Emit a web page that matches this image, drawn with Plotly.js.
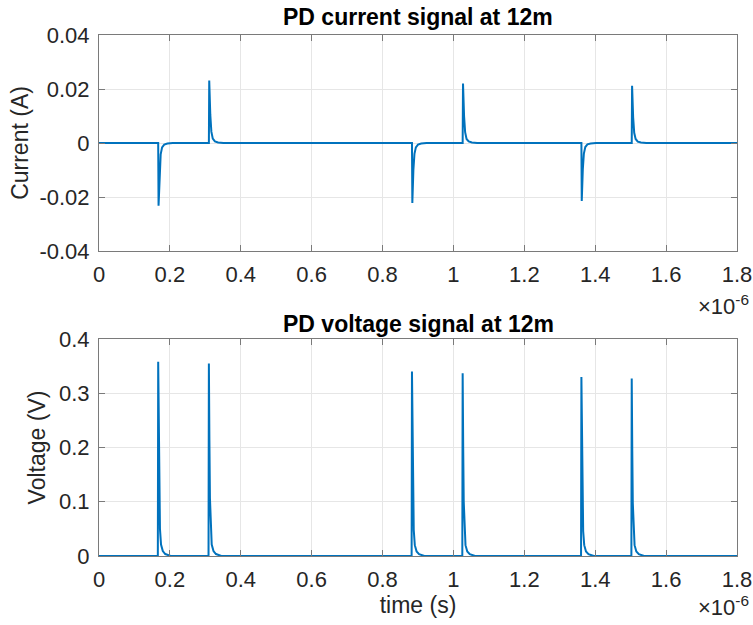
<!DOCTYPE html>
<html>
<head>
<meta charset="utf-8">
<script src="https://cdn.plot.ly/plotly-3.0.1.min.js"></script>
<style>html,body{margin:0;padding:0;background:#fff;}#chart{width:753px;height:625px;}</style>
</head>
<body>
<div id="chart"></div>
<script>
// time in microseconds (axis shows x10^-6 s)
const currentTime = [0,
  0.167, 0.168, 0.171, 0.174, 0.178, 0.184, 0.193, 0.208,
  0.310, 0.311, 0.314, 0.317, 0.321, 0.327, 0.336, 0.351,
  0.883, 0.884, 0.887, 0.890, 0.894, 0.900, 0.909, 0.924,
  1.026, 1.027, 1.030, 1.033, 1.037, 1.043, 1.052, 1.067,
  1.361, 1.362, 1.365, 1.368, 1.372, 1.378, 1.387, 1.402,
  1.503, 1.504, 1.507, 1.510, 1.514, 1.520, 1.529, 1.544,
  1.8];
const currentValues = [0,
  0, -0.0232, -0.0104, -0.0042, -0.0016, -0.0006, -0.0002, 0,
  0, 0.0231, 0.0104, 0.0042, 0.0016, 0.0006, 0.0002, 0,
  0, -0.0222, -0.0100, -0.0040, -0.0016, -0.0006, -0.0002, 0,
  0, 0.0220, 0.0099, 0.0040, 0.0015, 0.0006, 0.0002, 0,
  0, -0.0215, -0.0097, -0.0039, -0.0015, -0.0005, -0.0002, 0,
  0, 0.0212, 0.0095, 0.0038, 0.0015, 0.0005, 0.0002, 0,
  0];
const voltageTime = [0,
  0.166, 0.167, 0.1685, 0.170, 0.172, 0.175, 0.180, 0.187, 0.202,
  0.309, 0.310, 0.3115, 0.313, 0.315, 0.318, 0.323, 0.330, 0.345,
  0.882, 0.883, 0.8845, 0.886, 0.888, 0.891, 0.896, 0.903, 0.918,
  1.025, 1.026, 1.0275, 1.029, 1.031, 1.034, 1.039, 1.046, 1.061,
  1.360, 1.361, 1.3625, 1.364, 1.366, 1.369, 1.374, 1.381, 1.396,
  1.502, 1.503, 1.5045, 1.506, 1.508, 1.511, 1.516, 1.523, 1.538,
  1.8];
const voltageValues = [0,
  0, 0.358, 0.215, 0.107, 0.050, 0.021, 0.009, 0.0036, 0,
  0, 0.355, 0.213, 0.107, 0.050, 0.021, 0.009, 0.0036, 0,
  0, 0.340, 0.204, 0.102, 0.048, 0.020, 0.0085, 0.0034, 0,
  0, 0.337, 0.202, 0.101, 0.047, 0.020, 0.0084, 0.0034, 0,
  0, 0.330, 0.198, 0.099, 0.046, 0.020, 0.0083, 0.0033, 0,
  0, 0.327, 0.196, 0.098, 0.046, 0.020, 0.0082, 0.0033, 0,
  0];
const xTickVals = [0, 0.2, 0.4, 0.6, 0.8, 1, 1.2, 1.4, 1.6, 1.8];
const xTickText = ['0', '0.2', '0.4', '0.6', '0.8', '1', '1.2', '1.4', '1.6', '1.8'];
const currentTickVals = [-0.04, -0.02, 0, 0.02, 0.04];
const currentTickText = ['-0.04', '-0.02', '0', '0.02', '0.04'];
const voltageTickVals = [0, 0.1, 0.2, 0.3, 0.4];
const voltageTickText = ['0', '0.1', '0.2', '0.3', '0.4'];

const lineColor = '#0072BD';
const FONT = 'Liberation Sans, Arial, Helvetica, sans-serif';
const TFONT = 'Liberation Sans Narrow, Arial Narrow, Liberation Sans, sans-serif';
const TICK = 22;
const LAB = 23;

const traces = [
  {x: currentTime, y: currentValues, xaxis: 'x', yaxis: 'y', type: 'scatter', mode: 'lines',
   line: {color: lineColor, width: 2}, hoverinfo: 'skip'},
  {x: voltageTime, y: voltageValues, xaxis: 'x2', yaxis: 'y2', type: 'scatter', mode: 'lines',
   line: {color: lineColor, width: 2}, hoverinfo: 'skip'}
];

function axisBase() {
  return {
    showline: true, linecolor: '#7a7a7a', linewidth: 1, mirror: 'ticks',
    ticks: 'inside', ticklen: 6, tickcolor: '#7a7a7a', tickwidth: 1,
    showgrid: true, gridcolor: '#e6e6e6', gridwidth: 1,
    zeroline: false, tickfont: {family: FONT, size: TICK, color: '#262626'},
    tickmode: 'array', fixedrange: true, ticklabelstandoff: 4
  };
}

const xa = Object.assign(axisBase(), {domain: [0, 1], range: [0, 1.8], tickvals: xTickVals, ticktext: xTickText, anchor: 'y'});
const xa2 = Object.assign(axisBase(), {domain: [0, 1], range: [0, 1.8], tickvals: xTickVals, ticktext: xTickText, anchor: 'y2',
  title: {text: 'time (s)', font: {family: FONT, size: LAB, color: '#262626'}, standoff: 2}});
const ya = Object.assign(axisBase(), {domain: [0.5984, 0.944], range: [-0.04, 0.04], tickvals: currentTickVals, ticktext: currentTickText, anchor: 'x',
  title: {text: 'Current (A)', font: {family: FONT, size: LAB, color: '#262626'}, standoff: 4}});
const ya2 = Object.assign(axisBase(), {domain: [0.1104, 0.4576], range: [0, 0.4], tickvals: voltageTickVals, ticktext: voltageTickText, anchor: 'x2',
  title: {text: 'Voltage (V)', font: {family: FONT, size: LAB, color: '#262626'}, standoff: 6}});

const layout = {
  width: 753, height: 625,
  margin: {l: 99, r: 16, t: 0, b: 0},
  paper_bgcolor: '#ffffff', plot_bgcolor: '#ffffff',
  showlegend: false,
  xaxis: xa, yaxis: ya, xaxis2: xa2, yaxis2: ya2,
  annotations: [
    {text: '<b>PD current signal at 12m</b>', xref: 'paper', yref: 'paper', x: 0.5, y: 0.944, yshift: 3,
     xanchor: 'center', yanchor: 'bottom', showarrow: false, font: {family: TFONT, size: 23, color: '#000'}},
    {text: '<b>PD voltage signal at 12m</b>', xref: 'paper', yref: 'paper', x: 0.5, y: 0.4576, yshift: 0,
     xanchor: 'center', yanchor: 'bottom', showarrow: false, font: {family: TFONT, size: 23, color: '#000'}},
    {text: '\u00d710<sup>-6</sup>', xref: 'paper', yref: 'paper', x: 1, y: 0.5984, xshift: 14, yshift: -38,
     xanchor: 'right', yanchor: 'top', showarrow: false, font: {family: FONT, size: 22, color: '#262626'}},
    {text: '\u00d710<sup>-6</sup>', xref: 'paper', yref: 'paper', x: 1, y: 0.1104, xshift: 14, yshift: -34,
     xanchor: 'right', yanchor: 'top', showarrow: false, font: {family: FONT, size: 22, color: '#262626'}}
  ]
};

Plotly.newPlot('chart', traces, layout, {staticPlot: true, displayModeBar: false});
</script>
</body>
</html>
